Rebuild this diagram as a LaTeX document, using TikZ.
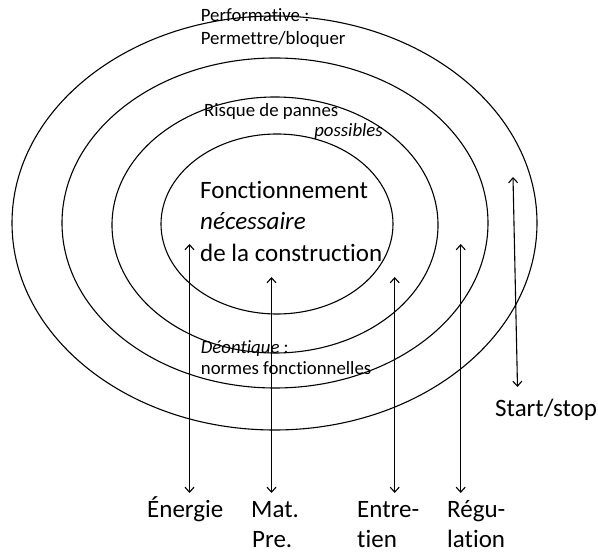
\documentclass[tikz,border=0pt]{standalone}
\usepackage{fontspec}
\setmainfont{Carlito}[Ligatures={NoCommon,NoContextual}]
\usetikzlibrary{arrows.meta,shapes.geometric}
\begin{document}
\begin{tikzpicture}[x=1pt,y=-1pt,
  ring/.style={draw,ellipse,line width=1.1pt,inner sep=0pt,outer sep=0pt},
  big/.style={font=\fontsize{25}{31}\selectfont,inner sep=0pt,anchor=base west},
  small/.style={font=\fontsize{18.8}{23}\selectfont,inner sep=0pt,anchor=base west},
  flow/.style={{Straight Barb[length=5pt,width=9pt]}-{Straight Barb[length=5pt,width=9pt]},line width=1.1pt}
]
\useasboundingbox (0,0) rectangle (598,553);
% rings
\node[ring,minimum width=525pt,minimum height=414pt] (outer) at (274.5,223) {};
\node[ring,minimum width=426pt,minimum height=330pt] (second) at (275,223) {};
\node[ring,minimum width=326pt,minimum height=256pt] (third) at (275,225) {};
\node[ring,minimum width=232pt,minimum height=180pt] (inner) at (277,224) {};
% centre text
\node[big] (l1) at (200,198.3) {Fonctionnement};
\node[big] (l2) at (200,230) {\itshape nécessaire};
\node[big] (l3) at (200,261.7) {de la construction};
% ring labels
\node[small] (perf) at (200.7,21.7) {Performative :};
\node[small] (perm) at (200.7,45) {Permettre/bloquer};
\node[small] (risq) at (204,116.7) {Risque de pannes};
\node[small,anchor=base east] (poss) at (383,136.7) {\itshape possibles};
\node[small] (deon) at (200.7,353.3) {\textit{Déontique} :};
\node[small] (norm) at (200.7,375) {normes fonctionnelles};
% bottom labels
\node[big] (energie) at (147,518) {Énergie};
\node[big] (mat) at (251,518) {Mat.};
\node[big] (pre) at (252,548) {Pre.};
\node[big] (entre) at (357,518) {Entre-};
\node[big] (tien) at (357,548) {tien};
\node[big] (regu) at (447,518) {Régu-};
\node[big] (lation) at (447,548) {lation};
\node[big] (startstop) at (495,417) {Start/stop};
% arrow ends
\coordinate (en-t) at (189.5,244);
\coordinate (en-b) at (189.5,493);
\coordinate (ma-t) at (271.5,277);
\coordinate (ma-b) at (271.5,493);
\coordinate (ent-t) at (394.7,277);
\coordinate (ent-b) at (394.7,493);
\coordinate (re-t) at (460.7,244);
\coordinate (re-b) at (460.7,493);
\coordinate (ss-t) at (513,177);
\coordinate (ss-b) at (517.5,387);
\draw[flow] (en-t) -- (en-b);
\draw[flow] (ma-t) -- (ma-b);
\draw[flow] (ent-t) -- (ent-b);
\draw[flow] (re-t) -- (re-b);
\draw[flow] (ss-t) -- (ss-b);
\end{tikzpicture}
\end{document}
